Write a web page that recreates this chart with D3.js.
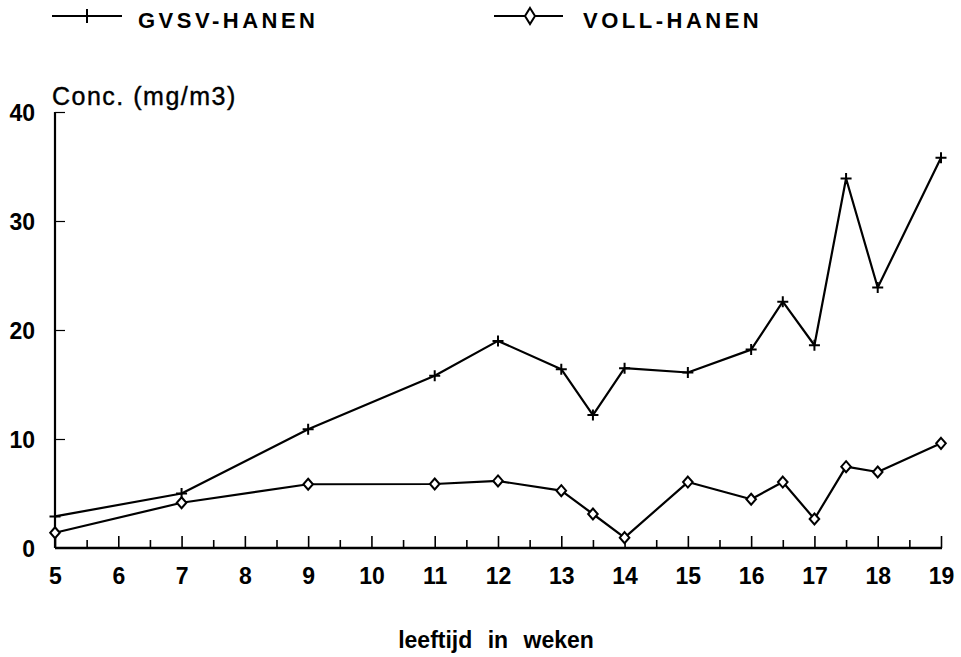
<!DOCTYPE html>
<html>
<head>
<meta charset="utf-8">
<script src="https://cdn.jsdelivr.net/npm/d3@7"></script>
<style>
  html, body { margin: 0; padding: 0; background: #fff; }
  svg { display: block; }
  text { font-family: "Liberation Sans", Arial, Helvetica, sans-serif; fill: #000; }
</style>
</head>
<body>
<svg id="chart" width="961" height="657"></svg>
<script>
// ---- data ----
const weeks = [5, 7, 9, 11, 12, 13, 13.5, 14, 15, 16, 16.5, 17, 17.5, 18, 19];
const gvsv  = [2.9, 5.0, 10.9, 15.8, 19.0, 16.4, 12.2, 16.5, 16.1, 18.2, 22.6, 18.6, 33.9, 23.9, 35.8];
const voll  = [1.4, 4.15, 5.85, 5.87, 6.15, 5.26, 3.12, 0.95, 6.05, 4.47, 6.05, 2.66, 7.46, 6.97, 9.6];
const xTickLabels = [5, 6, 7, 8, 9, 10, 11, 12, 13, 14, 15, 16, 17, 18, 19];
const xHalfTicks = [5.5, 6.5, 7.5, 8.5, 9.5, 10.5, 11.5, 12.5, 13.5, 14.5, 15.5, 16.5, 17.5, 18.5];
const yTickLabels = [0, 10, 20, 30, 40];
const seriesNames = ["GVSV-HANEN", "VOLL-HANEN"];
const yTitle = "Conc. (mg/m3)";
const xTitle = "leeftijd in weken";

// ---- drawing ----
const svg = d3.select("#chart");
const x = d3.scaleLinear().domain([5, 19]).range([55, 941]);
const y = d3.scaleLinear().domain([0, 40]).range([548, 112]);

const plusPath = "M-5.5,0H5.5M0,-5.5V5.5";
const diamondPath = "M0,-5.5L4.8,0L0,5.5L-4.8,0Z";

// x axis - half ticks
const gxHalf = svg.append("g").attr("transform", `translate(0,${y(0)})`)
  .call(d3.axisBottom(x).tickValues(xHalfTicks).tickSize(-8).tickSizeOuter(0).tickFormat(""));
gxHalf.select(".domain").remove();
gxHalf.selectAll("line").attr("stroke", "#000").attr("stroke-width", 1.6);

// x axis - integer ticks
const gx = svg.append("g").attr("transform", `translate(0,${y(0)})`)
  .call(d3.axisBottom(x).tickValues(xTickLabels).tickSize(-12).tickSizeOuter(0).tickPadding(20));
gx.select(".domain").attr("stroke", "#000").attr("stroke-width", 2.4)
  .attr("d", `M${x(5)},0H${x(19) + 1}`);
gx.selectAll("line").attr("stroke", "#000").attr("stroke-width", 1.6);
gx.selectAll("text").style("font-size", "23px").style("font-weight", "bold")
  .style("font-family", "'Liberation Sans', Arial, sans-serif").attr("fill", "#000");

// y axis
const gy = svg.append("g").attr("transform", `translate(${x(5)},0)`)
  .call(d3.axisLeft(y).tickValues(yTickLabels).tickSize(-10).tickSizeOuter(0).tickPadding(20));
gy.select(".domain").attr("stroke", "#000").attr("stroke-width", 2.2)
  .attr("d", `M0,${y(0)}V${y(40)}`);
gy.selectAll("line").attr("stroke", "#000").attr("stroke-width", 1.2)
  .filter(d => d === 0).remove();
gy.selectAll("text").style("font-size", "23px").style("font-weight", "bold")
  .style("font-family", "'Liberation Sans', Arial, sans-serif").attr("fill", "#000")
  .attr("dy", "0.38em");

// y title
svg.append("text").attr("x", 52).attr("y", 105)
  .style("font-size", "25px").style("letter-spacing", "1.5px")
  .attr("stroke", "#000").attr("stroke-width", 0.4)
  .text(yTitle);

// x title
svg.append("text").attr("x", 496).attr("y", 648).attr("text-anchor", "middle")
  .style("font-size", "23px").style("font-weight", "bold").style("word-spacing", "9px")
  .text(xTitle);

// lines
const line = d3.line().x(d => x(d[0])).y(d => y(d[1]));
const gData = d3.zip(weeks, gvsv);
const vData = d3.zip(weeks, voll);

svg.append("path").datum(gData).attr("d", line)
  .attr("fill", "none").attr("stroke", "#000").attr("stroke-width", 2.2).attr("stroke-linejoin", "round");
svg.append("path").datum(vData).attr("d", line)
  .attr("fill", "none").attr("stroke", "#000").attr("stroke-width", 2.2).attr("stroke-linejoin", "round");

svg.append("g").selectAll("path").data(gData).join("path")
  .attr("transform", d => `translate(${x(d[0])},${y(d[1])})`)
  .attr("d", plusPath).attr("stroke", "#000").attr("stroke-width", 2).attr("fill", "none");
svg.append("g").selectAll("path").data(vData).join("path")
  .attr("transform", d => `translate(${x(d[0])},${y(d[1])})`)
  .attr("d", diamondPath).attr("stroke", "#000").attr("stroke-width", 2).attr("fill", "#fff");

// legend
const legend = [
  { name: seriesNames[0], x1: 52, x2: 122, mx: 87, tx: 138, marker: "M-5,0H5M0,-7V7", fill: "none" },
  { name: seriesNames[1], x1: 494, x2: 563, mx: 530, tx: 583, marker: "M0,-8L5,0L0,8L-5,0Z", fill: "#fff" }
];
const lg = svg.append("g").selectAll("g").data(legend).join("g");
lg.append("line").attr("x1", d => d.x1).attr("x2", d => d.x2).attr("y1", 16).attr("y2", 16)
  .attr("stroke", "#000").attr("stroke-width", 2);
lg.append("path").attr("transform", d => `translate(${d.mx},16)`).attr("d", d => d.marker)
  .attr("stroke", "#000").attr("stroke-width", 2).attr("fill", d => d.fill);
lg.append("text").attr("x", d => d.tx).attr("y", 28)
  .style("font-size", "22px").style("font-weight", "bold").style("letter-spacing", "3.5px")
  .text(d => d.name);
</script>
</body>
</html>
